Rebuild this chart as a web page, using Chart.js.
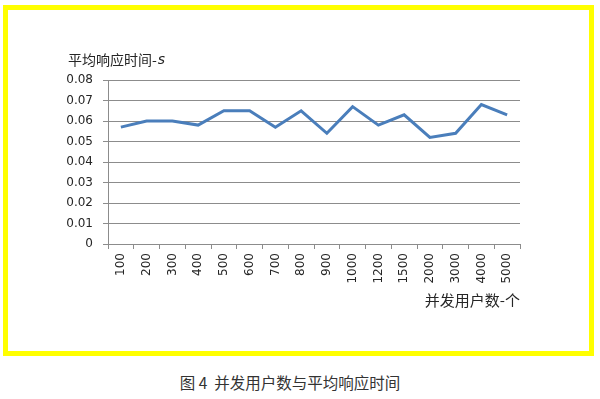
<!DOCTYPE html>
<html>
<head>
<meta charset="utf-8">
<script src="https://cdn.jsdelivr.net/npm/chart.js@4/dist/chart.umd.min.js"></script>
<style>
  body { margin: 0; background: #fff; width: 600px; height: 399px; position: relative; overflow: hidden; }
  #frame { position: absolute; left: 3px; top: 5px; width: 591px; height: 351px; box-sizing: border-box; border: 5px solid #ffff00; }
  #chart { position: absolute; left: 0; top: 0; }
  #caption { position: absolute; left: 0; width: 580px; top: 371px; text-align: center;
    font: 15.5px "Noto Sans CJK SC", sans-serif; color: #333; }
</style>
</head>
<body>
<div id="frame"></div>
<canvas id="chart" width="600" height="320"></canvas>
<div id="caption">图 4&nbsp; 并发用户数与平均响应时间</div>
<script>
// concurrent users (x categories)
const users = ["100", "200", "300", "400", "500", "600", "700", "800", "900",
  "1000", "1200", "1500", "2000", "3000", "4000", "5000"];
// average response time in seconds
const responseTime = [0.057, 0.060, 0.060, 0.058, 0.065, 0.065, 0.057, 0.065, 0.054,
  0.067, 0.058, 0.063, 0.052, 0.054, 0.068, 0.063];
const yTitle = "平均响应时间-";
const yUnit = "s";
const xTitle = "并发用户数-个";

const gridColor = "#8c8c8c";
const textColor = "#262626";

// y axis title sits horizontally above the axis, like the Excel original
const yTitlePlugin = {
  id: "yTitle",
  afterDraw(chart) {
    const ctx = chart.ctx;
    const area = chart.chartArea;
    ctx.save();
    ctx.fillStyle = textColor;
    ctx.textBaseline = "middle";
    ctx.font = '14px "Noto Sans CJK SC"';
    const x = area.left - 40;
    const y = area.top - 20;
    ctx.fillText(yTitle, x, y);
    const w = ctx.measureText(yTitle).width;
    ctx.font = 'italic 14px "DejaVu Sans"';
    ctx.fillText(yUnit, x + w + 1, y);
    ctx.restore();
  }
};

new Chart(document.getElementById("chart"), {
  type: "line",
  data: {
    labels: users,
    datasets: [{
      data: responseTime,
      borderColor: "#4a7ebb",
      borderWidth: 3,
      pointRadius: 0,
      tension: 0,
      fill: false
    }]
  },
  options: {
    responsive: false,
    animation: false,
    layout: { padding: { left: 62, right: 80, top: 80, bottom: 10 } },
    plugins: { legend: { display: false }, tooltip: { enabled: false } },
    scales: {
      x: {
        offset: true,
        afterFit: (scale) => { scale.height = 66; },
        grid: { offset: true, drawOnChartArea: false, drawTicks: true, tickLength: 5, color: gridColor },
        border: { color: gridColor },
        ticks: {
          minRotation: 90, maxRotation: 90, autoSkip: false, padding: 4,
          color: textColor, font: { family: "DejaVu Sans", size: 12 }
        },
        title: {
          display: true, text: xTitle, align: "end", color: textColor,
          font: { family: "Noto Sans CJK SC", size: 15 }, padding: { top: 0, bottom: 1 }
        }
      },
      y: {
        min: 0, max: 0.08,
        afterFit: (scale) => { scale.width = 46; },
        grid: { color: gridColor, tickLength: 5 },
        border: { color: gridColor },
        ticks: {
          stepSize: 0.01, padding: 10, color: textColor,
          font: { family: "DejaVu Sans", size: 12 },
          callback: (v) => String(+v.toFixed(2))
        }
      }
    }
  },
  plugins: [yTitlePlugin]
});
</script>
</body>
</html>
